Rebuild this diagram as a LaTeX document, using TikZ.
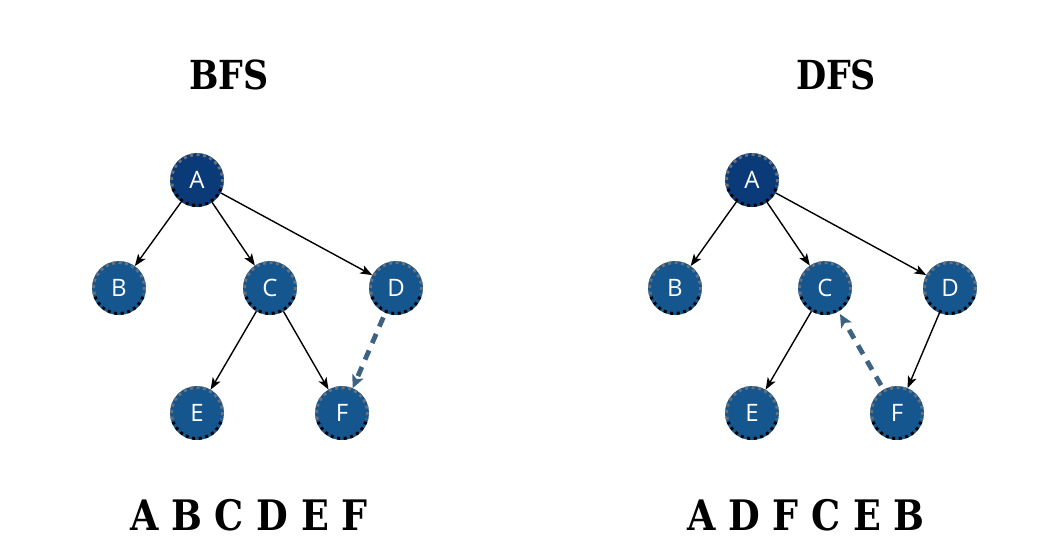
\documentclass[tikz,border=0pt]{standalone}
\usepackage{fontspec}
\setmainfont{DejaVu Serif}
\newfontfamily\nodefont{Open Sans}
\usetikzlibrary{arrows.meta}
\definecolor{navy}{HTML}{0B3A78}
\definecolor{nblue}{HTML}{15568E}
\definecolor{dashc}{HTML}{3D6283}
\definecolor{dotgray}{HTML}{6A6F78}
\tikzset{
  gnode/.style={circle, fill=nblue, minimum size=54pt, inner sep=0pt, outer sep=0pt,
    text=white, font=\nodefont\fontsize{24}{24}\selectfont},
  rootnode/.style={gnode, fill=navy},
  edge/.style={line width=1.4pt, -{Stealth[length=12pt,width=9pt,inset=3pt]}},
  visit/.style={line width=4.8pt, dashc, dash pattern=on 10pt off 8pt,
    -{Stealth[length=13pt,width=12pt,inset=3pt]}},
  title/.style={font=\bfseries\fontsize{40}{40}\selectfont, xscale=0.87},
  order/.style={font=\bfseries\fontsize{42}{42}\selectfont, xscale=0.87},
  dotsup/.style={dotgray, line width=3pt, dash pattern=on 3pt off 3.6pt},
  dotsdown/.style={black, line width=3pt, dash pattern=on 3pt off 3.6pt},
}
\begin{document}
\begin{tikzpicture}[x=1pt,y=-1pt]
\useasboundingbox (0,0) rectangle (1039,558);
% BFS
\node[title] (t1) at (229,75) {BFS};
\node[rootnode] (a1) at (197,180) {A};
\node[gnode] (b1) at (119,288) {B};
\node[gnode] (c1) at (270,288) {C};
\node[gnode] (d1) at (396,288) {D};
\node[gnode] (e1) at (197,413) {E};
\node[gnode] (f1) at (342,413) {F};
% DFS
\node[title] (t2) at (836,75) {DFS};
\node[rootnode] (a2) at (752,180) {A};
\node[gnode] (b2) at (675,288) {B};
\node[gnode] (c2) at (825,288) {C};
\node[gnode] (d2) at (950,288) {D};
\node[gnode] (e2) at (752,413) {E};
\node[gnode] (f2) at (897,413) {F};
% dotted rims
\begin{scope}[y=1pt]
\foreach \n in {a1,b1,c1,d1,e1,f1,a2,b2,c2,d2,e2,f2}{
  \draw[dotsup] (\n.center) ++(195:25.5) arc[start angle=195,end angle=-15,radius=25.5];
  \draw[dotsdown] (\n.center) ++(-20:25.5) arc[start angle=-20,end angle=-160,radius=25.5];
}
\end{scope}
% BFS edges
\draw[edge] (a1) -- (b1);
\draw[edge] (a1) -- (c1);
\draw[edge] (a1) -- (d1);
\draw[edge] (c1) -- (e1);
\draw[edge] (c1) -- (f1);
\draw[visit, shorten <=5pt, shorten >=0pt] (d1) -- (f1);
% DFS edges
\draw[edge] (a2) -- (b2);
\draw[edge] (a2) -- (c2);
\draw[edge] (a2) -- (d2);
\draw[edge] (c2) -- (e2);
\draw[edge] (d2) -- (f2);
\draw[visit, shorten <=5pt, shorten >=3pt] (f2) -- (c2);
% orders
\node[order] (o1) at (249,515) {A B C D E F};
\node[order] (o2) at (806,515) {A D F C E B};
\end{tikzpicture}
\end{document}
